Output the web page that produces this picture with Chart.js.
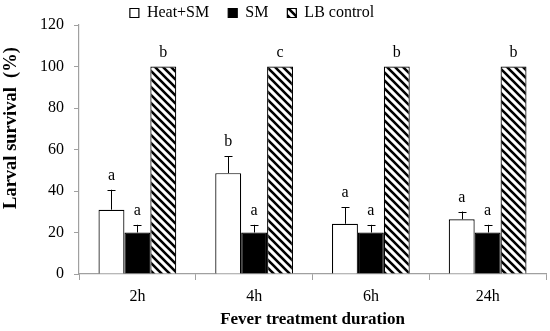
<!DOCTYPE html>
<html>
<head>
<meta charset="utf-8">
<script src="https://cdn.jsdelivr.net/npm/chart.js@4.4.1/dist/chart.umd.min.js"></script>
<style>
  html, body { margin: 0; padding: 0; background: #fff; }
  #wrap { width: 550px; height: 331px; }
</style>
</head>
<body>
<div id="wrap"><canvas id="c" width="550" height="331"></canvas></div>
<script>
const categories = ["2h", "4h", "6h", "24h"];
const heatSM = [31, 48.6, 24.2, 26.4];
const heatSMErr = [9.6, 8.1, 8, 3.7];
const sm = [20, 20, 20, 20];
const smErr = [3.7, 3.7, 3.7, 3.7];
const lbControl = [100, 100, 100, 100];
const lbErr = [0, 0, 0, 0];
const heatLetters = ["a", "b", "a", "a"];
const smLetters = ["a", "a", "a", "a"];
const lbLetters = ["b", "c", "b", "b"];
const yTicks = [0, 20, 40, 60, 80, 100, 120];

const FONT = "'Liberation Serif', 'Times New Roman', serif";
const AXIS = "#a0a0a0";

function hatch() {
  const p = document.createElement("canvas");
  p.width = 8; p.height = 8;
  const g = p.getContext("2d");
  g.fillStyle = "#fff";
  g.fillRect(0, 0, 8, 8);
  g.strokeStyle = "#000";
  g.lineWidth = 2.6;
  g.beginPath();
  g.moveTo(-2, -2); g.lineTo(10, 10);
  g.moveTo(-10, -2); g.lineTo(2, 10);
  g.moveTo(6, -2); g.lineTo(18, 10);
  g.stroke();
  return document.getElementById("c").getContext("2d").createPattern(p, "repeat");
}

const errs = [heatSMErr, smErr, lbErr];
const letters = [heatLetters, smLetters, lbLetters];

// legend padding gives wide item gaps; trim its box so the plot starts high,
// and widen the row so the centred legend sits a bit left like the original
const legendFit = {
  id: "legendFit",
  beforeInit(chart) {
    const orig = chart.legend.fit;
    chart.legend.fit = function () {
      orig.call(this);
      this.height = 39;
      if (this.lineWidths && this.lineWidths.length) this.lineWidths[0] += 42;
    };
  }
};

const annot = {
  id: "annot",
  afterDatasetsDraw(chart) {
    const ctx = chart.ctx;
    const y = chart.scales.y;
    const area = chart.chartArea;
    ctx.save();
    ctx.strokeStyle = "#000";
    ctx.lineWidth = 1;
    ctx.fillStyle = "#000";
    ctx.font = "16px " + FONT;
    ctx.textAlign = "center";
    ctx.textBaseline = "alphabetic";
    chart.data.datasets.forEach((ds, i) => {
      const meta = chart.getDatasetMeta(i);
      meta.data.forEach((bar, j) => {
        const v = ds.data[j];
        const e = errs[i][j];
        const x = Math.round(bar.x) + 0.5;
        const top = y.getPixelForValue(v + e);
        if (e > 0) {
          ctx.beginPath();
          ctx.moveTo(x, y.getPixelForValue(v));
          ctx.lineTo(x, top);
          ctx.moveTo(x - 4, Math.round(top) + 0.5);
          ctx.lineTo(x + 4, Math.round(top) + 0.5);
          ctx.stroke();
        }
        ctx.fillText(letters[i][j], bar.x, top - 10);
      });
    });
    // axis titles
    ctx.textBaseline = "middle";
    ctx.font = "bold 17px " + FONT;
    ctx.fillText("Fever treatment duration", (area.left + area.right) / 2, 320);
    ctx.translate(11, 128);
    ctx.rotate(-Math.PI / 2);
    ctx.font = "bold 18.5px " + FONT;
    ctx.fillText("Larval survival  (%)", 0, 0);
    ctx.restore();
  }
};

new Chart(document.getElementById("c"), {
  type: "bar",
  data: {
    labels: categories,
    datasets: [
      { label: "Heat+SM", data: heatSM, backgroundColor: "#fff", borderColor: "#000", borderWidth: 1.2 },
      { label: "SM", data: sm, backgroundColor: "#000", borderColor: "#000", borderWidth: 1.2 },
      { label: "LB control", data: lbControl, backgroundColor: hatch(), borderColor: "#000", borderWidth: 1.2 }
    ]
  },
  options: {
    responsive: false,
    animation: false,
    devicePixelRatio: 1,
    layout: { padding: { left: 0, right: 4, top: -14, bottom: 1 } },
    datasets: { bar: { categoryPercentage: 0.666, barPercentage: 1.0 } },
    plugins: {
      tooltip: { enabled: false },
      legend: {
        position: "top",
        labels: {
          color: "#000",
          font: { family: FONT, size: 16 },
          boxWidth: 9,
          boxHeight: 9,
          padding: 19
        }
      }
    },
    scales: {
      x: {
        afterFit: (s) => { s.height = 56; },
        grid: { display: true, drawOnChartArea: false, offset: true, color: AXIS, tickLength: 6 },
        border: { color: AXIS, width: 1.2 },
        ticks: { color: "#000", font: { family: FONT, size: 16 }, padding: 7 }
      },
      y: {
        min: 0,
        max: 120,
        afterBuildTicks: (s) => { s.ticks = yTicks.map((v) => ({ value: v })); },
        afterFit: (s) => { s.width = 79; },
        grid: { display: true, drawOnChartArea: false, color: AXIS, tickLength: 5 },
        border: { color: AXIS, width: 1.2 },
        ticks: { color: "#000", font: { family: FONT, size: 16 }, padding: 10 }
      }
    }
  },
  plugins: [legendFit, annot]
});
</script>
</body>
</html>
